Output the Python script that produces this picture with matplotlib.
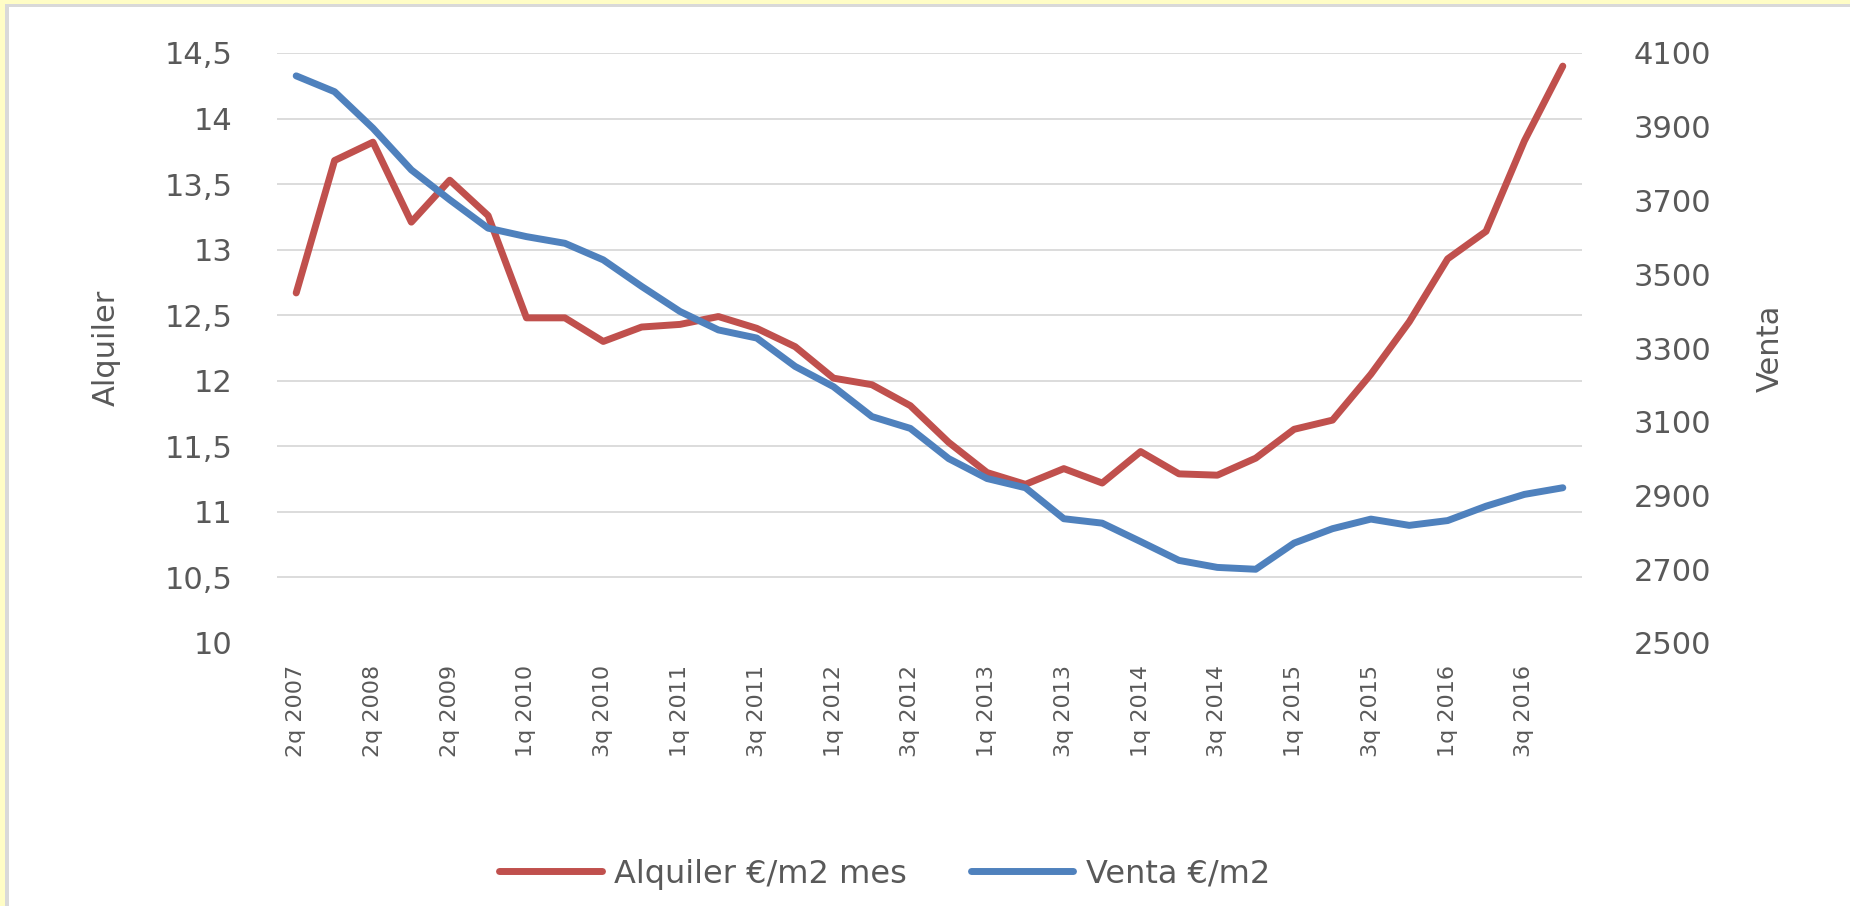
import matplotlib
matplotlib.use("Agg")
import matplotlib.pyplot as plt
from matplotlib.patches import Rectangle
import numpy as np

# ---- data ----
quarters = ['2q 2007', '4q 2007', '2q 2008', '4q 2008', '2q 2009', '4q 2009',
            '1q 2010', '2q 2010', '3q 2010', '4q 2010',
            '1q 2011', '2q 2011', '3q 2011', '4q 2011',
            '1q 2012', '2q 2012', '3q 2012', '4q 2012',
            '1q 2013', '2q 2013', '3q 2013', '4q 2013',
            '1q 2014', '2q 2014', '3q 2014', '4q 2014',
            '1q 2015', '2q 2015', '3q 2015', '4q 2015',
            '1q 2016', '2q 2016', '3q 2016', '4q 2016']
alquiler = [12.67, 13.68, 13.82, 13.21, 13.53, 13.26, 12.48, 12.48, 12.30, 12.41,
            12.43, 12.49, 12.40, 12.26, 12.02, 11.97, 11.81, 11.53, 11.30, 11.21,
            11.33, 11.22, 11.46, 11.29, 11.28, 11.41, 11.63, 11.70, 12.05, 12.45,
            12.93, 13.14, 13.83, 14.40]
venta = [4038, 3995, 3896, 3783, 3702, 3625, 3602, 3584, 3539, 3467,
         3399, 3349, 3327, 3250, 3195, 3114, 3082, 3000, 2946, 2921,
         2837, 2825, 2775, 2724, 2705, 2700, 2771, 2810, 2836, 2819,
         2832, 2871, 2903, 2921]
left_ticks = [10, 10.5, 11, 11.5, 12, 12.5, 13, 13.5, 14, 14.5]
left_labels = ['10', '10,5', '11', '11,5', '12', '12,5', '13', '13,5', '14', '14,5']
right_ticks = [2500, 2700, 2900, 3100, 3300, 3500, 3700, 3900, 4100]
right_labels = ['2500', '2700', '2900', '3100', '3300', '3500', '3700', '3900', '4100']
series_names = ['Alquiler €/m2 mes', 'Venta €/m2']
axis_titles = ['Alquiler', 'Venta']

# ---- style ----
RED = '#C0504D'
BLUE = '#4F81BD'
TXT = '#595959'
GRID = '#D9D9D9'

W, H = 1850, 906
fig = plt.figure(figsize=(W / 100, H / 100), dpi=100)
fig.patch.set_facecolor('white')

# frame: yellow outer strip and gray inner strip (top and left)
fig.patches.append(Rectangle((0, 0), 5 / W, 1, transform=fig.transFigure,
                             facecolor='#FFFDC6', edgecolor='none', zorder=0))
fig.patches.append(Rectangle((0, 1 - 4 / H), 1, 4 / H, transform=fig.transFigure,
                             facecolor='#FFFDC6', edgecolor='none', zorder=0))
fig.patches.append(Rectangle((5 / W, 0), 4 / W, 1 - 4 / H, transform=fig.transFigure,
                             facecolor='#D9D9D9', edgecolor='none', zorder=0))
fig.patches.append(Rectangle((5 / W, 1 - 7 / H), 1 - 5 / W, 3 / H, transform=fig.transFigure,
                             facecolor='#D9D9D9', edgecolor='none', zorder=0))

left, right = 277 / W, 1582 / W
top, bottom = 1 - 53 / H, 1 - 643 / H
ax = fig.add_axes([left, bottom, right - left, top - bottom])
ax.set_facecolor('none')
x = np.arange(len(quarters))

for t in left_ticks[1:]:
    ax.axhline(t, color=GRID, lw=1.3, zorder=0)

l1, = ax.plot(x, alquiler, color=RED, lw=5, solid_capstyle='round',
              solid_joinstyle='round', zorder=3, label=series_names[0])
ax.set_ylim(10, 14.5)
ax.set_xlim(-0.5, len(quarters) - 0.5)
ax.set_yticks(left_ticks)
ax.set_yticklabels(left_labels)
ax.set_xticks(x[::2])
ax.set_xticklabels(quarters[::2], rotation=90, va='top', ha='center')
ax.tick_params(axis='y', length=0, pad=32, labelsize=22, labelcolor=TXT)
ax.tick_params(axis='x', length=0, pad=16, labelsize=16, labelcolor=TXT)
for s in ax.spines.values():
    s.set_visible(False)

ax2 = ax.twinx()
l2, = ax2.plot(x, venta, color=BLUE, lw=5, solid_capstyle='round',
               solid_joinstyle='round', zorder=3, label=series_names[1])
ax2.set_ylim(2500, 4100)
ax2.set_yticks(right_ticks)
ax2.set_yticklabels(right_labels)
ax2.tick_params(axis='y', length=0, pad=37, labelsize=22, labelcolor=TXT)
for s in ax2.spines.values():
    s.set_visible(False)

fig.text(106 / W, 1 - 348 / H, axis_titles[0], rotation=90, ha='center', va='center',
         fontsize=22, color=TXT)
fig.text(1770 / W, 1 - 348 / H, axis_titles[1], rotation=90, ha='center', va='center',
         fontsize=22, color=TXT)

leg = fig.legend([l1, l2], series_names, loc='center', bbox_to_anchor=(885 / W, 1 - 874 / H),
                 ncol=2, frameon=False, fontsize=23, handlelength=3.2,
                 handletextpad=0.4, columnspacing=2.0, labelcolor=TXT)

fig.savefig('out.png', dpi=100, facecolor=fig.get_facecolor())
